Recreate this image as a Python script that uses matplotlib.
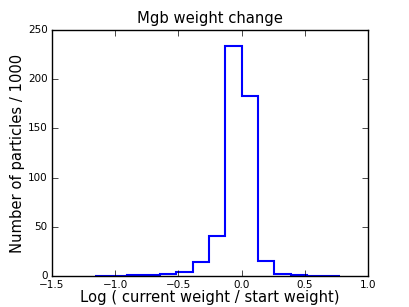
import numpy as np
import matplotlib
matplotlib.use('Agg')
import matplotlib.pyplot as plt

# histogram bins (log weight ratio) and counts in thousands
bin_edges = [-1.161, -1.032, -0.903, -0.774, -0.645, -0.516, -0.387, -0.258,
             -0.129, 0.0, 0.129, 0.258, 0.387, 0.516, 0.645, 0.774]
counts = [0.2, 0.4, 0.7, 1.0, 1.8, 4.5, 14.5, 40.5,
          233.5, 182.5, 15.5, 2.5, 0.8, 0.4, 0.2]
xticks = [-1.5, -1.0, -0.5, 0.0, 0.5, 1.0]
yticks = [0, 50, 100, 150, 200, 250]

plt.style.use('classic')
fig = plt.figure(figsize=(4.09, 3.07), dpi=100)
ax = fig.add_axes([0.127, 0.101, 0.773, 0.801])

centers = (np.array(bin_edges[:-1]) + np.array(bin_edges[1:])) / 2
ax.hist(centers, bins=bin_edges, weights=counts, histtype='step',
        color='b', linewidth=1.5)

ax.set_xlim(-1.5, 1.0)
ax.set_ylim(0, 250)
ax.set_xticks(xticks)
ax.set_yticks(yticks)
ax.tick_params(labelsize=7.5, pad=3)
ax.set_title('Mgb weight change', fontsize=10.6)
ax.set_xlabel('Log ( current weight / start weight)', fontsize=10.6, labelpad=0)
ax.set_ylabel('Number of particles / 1000', fontsize=10.6, labelpad=2)

fig.savefig('out.png', dpi=100)
